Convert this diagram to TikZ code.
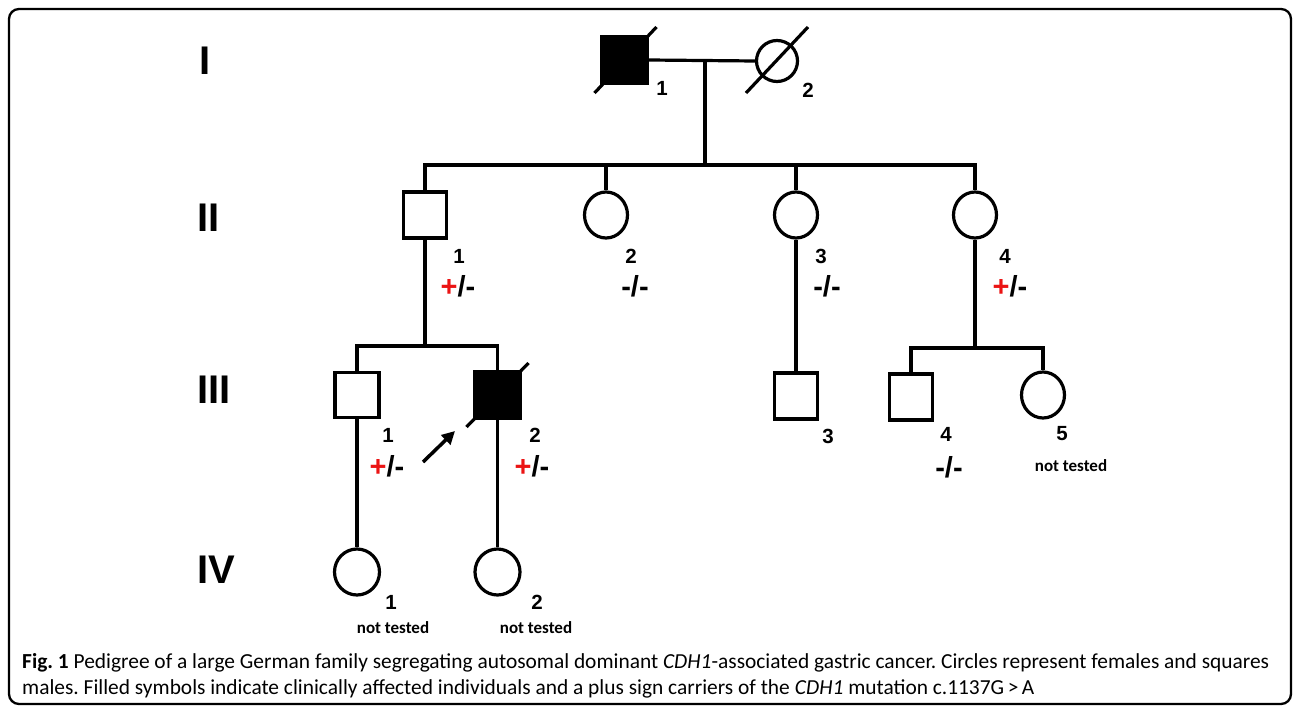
\documentclass[tikz,border=0pt]{standalone}
\usepackage{fontspec}
\setmainfont{Liberation Sans}
\newfontfamily\calib{Carlito}
\usetikzlibrary{shapes.geometric,arrows.meta,calc}

\tikzset{
  pline/.style={line width=3.2pt},
  male/.style={draw, line width=3.2pt, rectangle, minimum width=43pt, minimum height=46pt, inner sep=0pt},
  female/.style={draw, line width=3.2pt, ellipse, minimum width=43pt, minimum height=46pt, inner sep=0pt},
  affected/.style={fill=black},
  genlabel/.style={font=\fontsize{40}{40}\selectfont\bfseries, inner sep=0pt, anchor=west},
  idlabel/.style={font=\fontsize{20.5}{20.5}\selectfont\bfseries, inner sep=0pt},
  geno/.style={font=\fontsize{29}{29}\selectfont\bfseries, inner sep=0pt},
  nt/.style={font=\calib\fontsize{17}{17}\selectfont\bfseries, inner sep=0pt},
  capt/.style={font=\calib\fontsize{21.4}{21.4}\selectfont, inner sep=0pt, anchor=base west},
  deceased/.style={line width=3.2pt},
}
\definecolor{plusred}{RGB}{235,20,20}
\newcommand{\carrier}{\textcolor{plusred}{+}/-}

\begin{document}
\frenchspacing
\begin{tikzpicture}[x=1pt,y=-1pt]
\useasboundingbox (0,0) rectangle (1293,706);

% frame
\draw[line width=2.3pt, rounded corners=10pt] (9,9) rectangle (1291,704);

% generation numerals
\node[genlabel] (gI)   at (199,61)  {I};
\node[genlabel] (gII)  at (197,218) {II};
\node[genlabel] (gIII) at (197,390) {III};
\node[genlabel] (gIV)  at (197,570) {IV};

% generation I
\node[male, affected, minimum width=46pt, minimum height=47pt] (I1) at (624.5,60) {};
\node[female, minimum width=41pt, minimum height=41pt] (I2) at (777,61) {};
\draw[deceased] ($(I1.center)+(-30,33)$) -- ($(I1.center)+(32,-33)$);
\draw[deceased] ($(I2.center)+(-31,32)$) -- ($(I2.center)+(31,-34)$);
\node[idlabel] (lI1) at (662,88) {1};
\node[idlabel] (lI2) at (808,90) {2};

% generation II
\node[male]   (II1) at (425,215) {};
\node[female] (II2) at (606,215) {};
\node[female] (II3) at (796,215) {};
\node[female] (II4) at (975,215) {};
\node[idlabel] (lII1) at (459,256) {1};
\node[geno]    (gII1) at (458,286) {\carrier};
\node[idlabel] (lII2) at (631,256) {2};
\node[geno]    (gII2) at (635,286) {-/-};
\node[idlabel] (lII3) at (821,256) {3};
\node[geno]    (gII3) at (827,286) {-/-};
\node[idlabel] (lII4) at (1005,256) {4};
\node[geno]    (gII4) at (1010,286) {\carrier};

% generation III
\node[male, minimum width=44pt, minimum height=45pt] (III1) at (357,395) {};
\node[male, affected, minimum width=46pt, minimum height=46pt] (III2) at (497.5,395) {};
\draw[deceased] ($(III2.center)+(-31,32)$) -- ($(III2.center)+(31,-32)$);
\node[male]   (III3) at (796,396) {};
\node[male]   (III4) at (911,397) {};
\node[female] (III5) at (1043,395) {};
\node[idlabel] (lIII1) at (388,435) {1};
\node[geno]    (gIII1) at (387,466) {\carrier};
\node[idlabel] (lIII2) at (535,435) {2};
\node[geno]    (gIII2) at (532,466) {\carrier};
\node[idlabel] (lIII3) at (828,436) {3};
\node[idlabel] (lIII4) at (946,434) {4};
\node[geno]    (gIII4) at (949,467) {-/-};
\node[idlabel] (lIII5) at (1062,434) {5};
\node[nt]      (nIII5) at (1071,466) {not tested};

% proband arrow
\coordinate (arA) at (423,462);
\coordinate (arB) at (455,431);
\draw[line width=3.5pt, -{Triangle[length=13pt,width=13pt]}] (arA) -- (arB);

% generation IV
\node[female, minimum width=45pt] (IV1) at (357,572) {};
\node[female, minimum width=45pt] (IV2) at (497.5,572) {};
\node[idlabel] (lIV1) at (391,602) {1};
\node[nt]      (nIV1) at (393,628) {not tested};
\node[idlabel] (lIV2) at (537,602) {2};
\node[nt]      (nIV2) at (536,628) {not tested};

% lines of descent
\coordinate (mI)    at (705,60);
\coordinate (sibII) at (705,165);
\coordinate (sibIIIa) at (425,346);
\coordinate (sibIIIb) at (975,348);

\draw[pline] (I1.east) -- (I2.west);
\draw[pline] (mI) -- (sibII);
\draw[pline] (II1.north) -- (II1.north |- sibII) -- (II4.north |- sibII) -- (II4.north);
\draw[pline] (II2.north) -- (II2.north |- sibII);
\draw[pline] (II3.north) -- (II3.north |- sibII);

\draw[pline] (II1.south) -- (sibIIIa);
\draw[pline] (III1.north) -- (III1.north |- sibIIIa) -- (III2.north |- sibIIIa) -- (III2.north);
\draw[pline] (II3.south) -- (III3.north);
\draw[pline] (II4.south) -- (sibIIIb);
\draw[pline] (III4.north) -- (III4.north |- sibIIIb) -- (III5.north |- sibIIIb) -- (III5.north);

\draw[pline] (III1.south) -- (IV1.north);
\draw[pline] (III2.south) -- (IV2.north);

% caption
\node[capt] (cap1) at (22,668) {\textbf{Fig. 1} Pedigree of a large German family segregating autosomal dominant \textit{CDH1}-associated gastric cancer. Circles represent females and squares};
\node[capt] (cap2) at (22,694) {males. Filled symbols indicate clinically affected individuals and a plus sign carriers of the \textit{CDH1} mutation c.1137G\,>\,A};
\end{tikzpicture}
\end{document}
